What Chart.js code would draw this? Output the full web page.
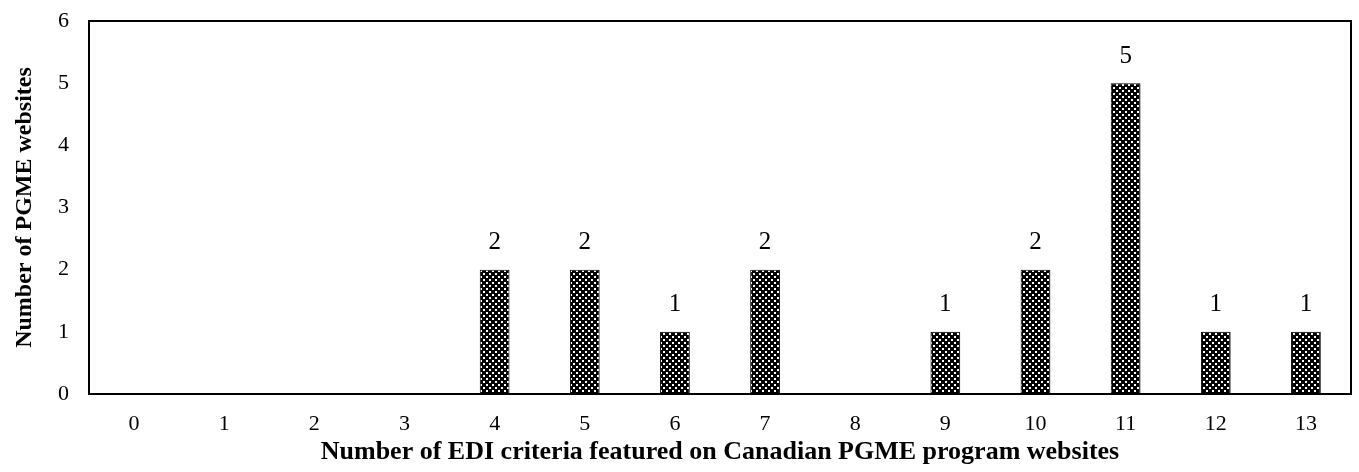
<!DOCTYPE html>
<html>
<head>
<meta charset="utf-8">
<script src="https://cdn.jsdelivr.net/npm/chart.js@4/dist/chart.umd.min.js"></script>
<style>
  html, body { margin: 0; padding: 0; background: #fff; }
  #wrap { width: 1359px; height: 472px; }
</style>
</head>
<body>
<div id="wrap"><canvas id="chart" width="1359" height="472"></canvas></div>
<script>
var categories = ['0', '1', '2', '3', '4', '5', '6', '7', '8', '9', '10', '11', '12', '13'];
var websites = [0, 0, 0, 0, 2, 2, 1, 2, 0, 1, 2, 5, 1, 1];
var yTicks = [0, 1, 2, 3, 4, 5, 6];

var serif = '"Liberation Serif", "Times New Roman", serif';

// checkered fill like the excel pattern
function makePattern() {
    var c = document.createElement('canvas');
    c.width = 6;
    c.height = 6;
    var g = c.getContext('2d');
    g.fillStyle = '#000';
    g.fillRect(0, 0, 6, 6);
    g.fillStyle = '#fff';
    g.fillRect(0, 0, 2, 2);
    g.fillRect(3, 3, 2, 2);
    return document.getElementById('chart').getContext('2d').createPattern(c, 'repeat');
}

var frame = {
    id: 'frame',
    afterDraw: function(chart) {
        var a = chart.chartArea, ctx = chart.ctx;
        ctx.save();
        ctx.strokeStyle = '#000';
        ctx.lineWidth = 2;
        ctx.strokeRect(a.left, a.top, a.right - a.left, a.bottom - a.top);
        ctx.restore();
    }
};

var valueLabels = {
    id: 'valueLabels',
    afterDatasetsDraw: function(chart) {
        var ctx = chart.ctx;
        var meta = chart.getDatasetMeta(0);
        ctx.save();
        ctx.fillStyle = '#000';
        ctx.font = '25px ' + serif;
        ctx.textAlign = 'center';
        ctx.textBaseline = 'middle';
        meta.data.forEach(function(bar, i) {
            if (websites[i] > 0)
                ctx.fillText(websites[i], bar.x, bar.y - 27);
        });
        ctx.restore();
    }
};

var ctx = document.getElementById('chart').getContext('2d');

new Chart(ctx, {
    type: 'bar',
    data: {
        labels: categories,
        datasets: [{
            data: websites,
            backgroundColor: makePattern(),
            borderColor: '#000',
            borderWidth: 1,
            borderSkipped: false,
            barPercentage: 0.33,
            categoryPercentage: 1
        }]
    },
    options: {
        responsive: false,
        animation: false,
        layout: { padding: { top: 21, right: 8, left: 0, bottom: 0 } },
        plugins: {
            legend: { display: false },
            tooltip: { enabled: false }
        },
        scales: {
            x: {
                grid: { display: false, drawTicks: false },
                border: { display: false },
                ticks: { color: '#000', font: { family: serif, size: 22 }, padding: 17, maxRotation: 0 },
                title: {
                    display: true,
                    text: 'Number of EDI criteria featured on Canadian PGME program websites',
                    color: '#000',
                    font: { family: serif, size: 26, weight: 'bold' },
                    padding: { top: 0, bottom: 4 }
                },
                afterFit: function(scale) { scale.height = 78; }
            },
            y: {
                min: 0,
                max: 6,
                afterBuildTicks: function(scale) {
                    scale.ticks = yTicks.map(function(v) { return { value: v }; });
                },
                grid: { display: false, drawTicks: false },
                border: { display: false },
                ticks: { color: '#000', font: { family: serif, size: 22 }, padding: 20 },
                title: {
                    display: true,
                    text: 'Number of PGME websites',
                    color: '#000',
                    font: { family: serif, size: 24, weight: 'bold' },
                    padding: { top: 10, bottom: 0 }
                },
                afterFit: function(scale) {
                    scale.width = 89;
                    scale.paddingTop = 0;
                    scale.paddingBottom = 0;
                }
            }
        }
    },
    plugins: [frame, valueLabels]
});
</script>
</body>
</html>
